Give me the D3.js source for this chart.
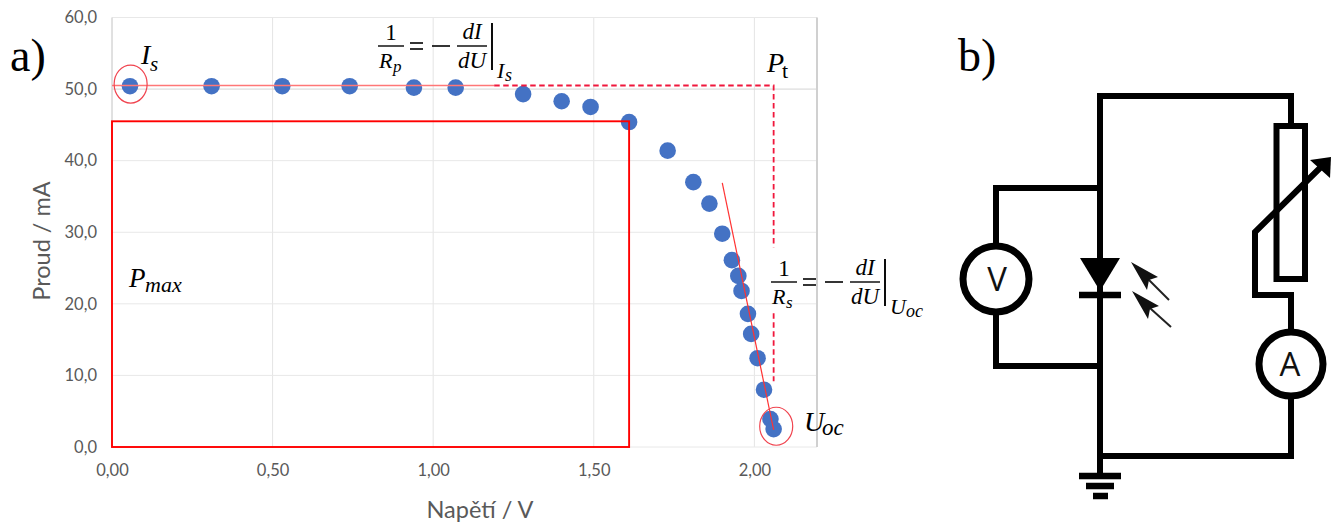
<!DOCTYPE html>
<html>
<head>
<meta charset="utf-8">
<script src="https://cdn.jsdelivr.net/npm/d3@7/dist/d3.min.js"></script>
<style>
  html, body { margin: 0; padding: 0; background: #fff; }
  svg { display: block; }
  .tick text { font-family: Lato, sans-serif; font-size: 16.5px; fill: #595959; }
  .title { font-family: Lato, sans-serif; font-size: 23.5px; fill: #595959; text-anchor: middle; }
  .math { font-family: "Liberation Serif", serif; fill: #000; }
</style>
</head>
<body>
<div id="visualization"></div>
<script>
var voltage = [0.056, 0.31, 0.53, 0.74, 0.94, 1.07, 1.28, 1.40, 1.49, 1.61, 1.73, 1.81, 1.86, 1.90, 1.93, 1.95, 1.96, 1.98, 1.99, 2.01, 2.03, 2.05, 2.06]
var current = [50.4, 50.4, 50.4, 50.4, 50.2, 50.2, 49.3, 48.3, 47.5, 45.4, 41.4, 37.0, 34.0, 29.8, 26.1, 23.9, 21.8, 18.6, 15.8, 12.4, 8.0, 3.9, 2.5]
var xTicks = [0, 0.5, 1, 1.5, 2]
var xTickLabels = ['0,00', '0,50', '1,00', '1,50', '2,00']
var yTicks = [0, 10, 20, 30, 40, 50, 60]
var yTickLabels = ['0,0', '10,0', '20,0', '30,0', '40,0', '50,0', '60,0']

var isc = 50.5
var uoc = 2.06
var mppU = 1.61
var mppI = 45.5

var svg = d3.select('#visualization')
  .append('svg')
  .attr('width', 1332)
  .attr('height', 524)

var x = d3.scaleLinear().domain([0, 2.195]).range([112, 817])
var y = d3.scaleLinear().domain([0, 60]).range([447, 17.5])

var line = d3.line()

function drawChart () {
  var grid = svg.append('g')
  grid.selectAll('.gx').data(xTicks).enter().append('line')
    .attr('x1', function (d) { return x(d) })
    .attr('x2', function (d) { return x(d) })
    .attr('y1', y(60))
    .attr('y2', y(0))
    .attr('stroke', '#e4e4e4')
    .attr('stroke-width', 1)
  grid.selectAll('.gy').data(yTicks).enter().append('line')
    .attr('x1', x(0))
    .attr('x2', 817)
    .attr('y1', function (d) { return y(d) })
    .attr('y2', function (d) { return y(d) })
    .attr('stroke', function (d) { return d === 50 ? '#d4d4d4' : '#e8e8e8' })
    .attr('stroke-width', 1)
  grid.append('line')
    .attr('x1', 817).attr('x2', 817)
    .attr('y1', y(60)).attr('y2', y(0))
    .attr('stroke', '#d0d0d0')
    .attr('stroke-width', 2)
  grid.append('line')
    .attr('x1', x(0)).attr('x2', x(0))
    .attr('y1', y(60)).attr('y2', y(0))
    .attr('stroke', '#d0d0d0')
    .attr('stroke-width', 1)

  var xAxis = d3.axisBottom(x)
    .tickValues(xTicks)
    .tickSize(0)
    .tickPadding(17)
    .tickFormat(function (d, i) { return xTickLabels[i] })
  var yAxis = d3.axisLeft(y)
    .tickValues(yTicks)
    .tickSize(0)
    .tickPadding(15)
    .tickFormat(function (d, i) { return yTickLabels[i] })
  svg.append('g').attr('transform', 'translate(0,447)').call(xAxis)
    .call(function (g) { g.select('.domain').remove() })
  svg.append('g').attr('transform', 'translate(112,0)').call(yAxis)
    .call(function (g) { g.select('.domain').remove() })

  svg.append('text').attr('class', 'title')
    .attr('x', 480).attr('y', 518).text('Napětí / V')
  svg.append('text').attr('class', 'title')
    .attr('transform', 'translate(50,241) rotate(-90)').text('Proud / mA')

  svg.selectAll('.pt').data(voltage).enter().append('circle')
    .attr('cx', function (d) { return x(d) })
    .attr('cy', function (d, i) { return y(current[i]) })
    .attr('r', 8.3)
    .attr('fill', '#4472c4')

  // Pmax box
  svg.append('rect')
    .attr('x', x(0))
    .attr('y', y(mppI))
    .attr('width', x(mppU) - x(0))
    .attr('height', y(0) - y(mppI))
    .attr('fill', 'none')
    .attr('stroke', '#ff0000')
    .attr('stroke-width', 1.9)

  // flat part of the curve and its tangent
  svg.append('path')
    .attr('d', line([[x(0), y(isc)], [x(1.19), y(isc)]]))
    .attr('stroke', '#f77')
    .attr('stroke-width', 1.3)
  svg.append('path')
    .attr('d', line([[x(1.90), y(36.9)], [x(uoc), y(2.4)]]))
    .attr('stroke', '#f33')
    .attr('stroke-width', 1.2)

  // Pt dashed corner
  var dash = svg.append('g')
    .attr('fill', 'none')
    .attr('stroke', '#f0173c')
    .attr('stroke-width', 1.8)
    .attr('stroke-dasharray', '5.5 3.5')
  dash.append('path')
    .attr('d', line([[x(1.19), y(isc)], [x(uoc), y(isc)], [x(uoc), y(27.9)]]))
  dash.append('path')
    .attr('d', line([[x(uoc), y(18.7)], [x(uoc), y(9.2)]]))

  var rings = [[0.058, 50.7], [2.068, 2.9]]
  svg.selectAll('.ring').data(rings).enter().append('ellipse')
    .attr('cx', function (d) { return x(d[0]) })
    .attr('cy', function (d) { return y(d[1]) })
    .attr('rx', 16.5)
    .attr('ry', 19)
    .attr('fill', 'none')
    .attr('stroke', '#f0444f')
    .attr('stroke-width', 1.2)
}

function mathText (tx, ty, str, size, italic) {
  svg.append('text').attr('class', 'math')
    .attr('x', tx).attr('y', ty)
    .attr('font-size', size)
    .attr('font-style', italic ? 'italic' : 'normal')
    .text(str)
}

function centerText (cx, ty, str, size, italic) {
  svg.append('text').attr('class', 'math')
    .attr('x', cx).attr('y', ty)
    .attr('font-size', size)
    .attr('font-style', italic ? 'italic' : 'normal')
    .attr('text-anchor', 'middle')
    .text(str)
}

function rule (x1, y1, x2, y2, w) {
  svg.append('path')
    .attr('d', line([[x1, y1], [x2, y2]]))
    .attr('stroke', '#000')
    .attr('stroke-width', w)
}

// 1/R = -dI/dU| with sub, placed from the left end of the first fraction
function formula (ox, oy, r, sub, subSub, subW) {
  centerText(ox + 13, oy - 6, '1', 23, false)
  rule(ox, oy, ox + 26, oy, 1.4)
  mathText(ox + 1, oy + 22, 'R', 22, true)
  mathText(ox + 15, oy + 26, r, 17, true)
  rule(ox + 32, oy - 3, ox + 45, oy - 3, 1.6)
  rule(ox + 32, oy + 3, ox + 45, oy + 3, 1.6)
  rule(ox + 54, oy, ox + 72, oy, 1.6)
  rule(ox + 79, oy, ox + 109, oy, 1.4)
  centerText(ox + 94, oy - 7, 'dI', 23, true)
  centerText(ox + 94, oy + 22, 'dU', 23, true)
  rule(ox + 114, oy - 23, ox + 114, oy + 24, 1.9)
  mathText(ox + 119, oy + 32, sub, 22, true)
  mathText(ox + 119 + subW, oy + 35, subSub, 18, true)
}

function drawLabels () {
  mathText(10, 71, 'a)', 46, false)
  mathText(958, 71, 'b)', 46, false)

  mathText(141, 64, 'I', 28, true)
  mathText(150, 71, 's', 21, true)
  mathText(767, 72, 'P', 28, true)
  mathText(782, 78, 't', 22, false)
  mathText(129, 287, 'P', 27, true)
  mathText(145, 292, 'max', 22, true)
  mathText(804, 431, 'U', 28, true)
  mathText(822, 435, 'oc', 23, true)

  formula(378, 46, 'p', 'I', 's', 8)
  formula(771, 282, 's', 'U', 'oc', 16)
}

function drawCircuit () {
  var c = svg.append('g')
  var wire = c.append('g')
    .attr('fill', 'none')
    .attr('stroke', '#000')
    .attr('stroke-width', 6)
    .attr('stroke-linejoin', 'miter')

  wire.append('path').attr('d', line([[1100, 476], [1100, 96], [1291, 96], [1291, 126]]))
  wire.append('path').attr('d', line([[1100, 188], [996, 188], [996, 246]]))
  wire.append('path').attr('d', line([[996, 312], [996, 366], [1100, 366]]))
  wire.append('path').attr('d', line([[1100, 456], [1291, 456], [1291, 396]]))
  wire.append('path').attr('d', line([[1291, 332], [1291, 295], [1255, 295], [1255, 232], [1322, 166]]))
  wire.append('rect')
    .attr('x', 1276.5).attr('y', 126)
    .attr('width', 28.5).attr('height', 153)
  wire.append('circle').attr('cx', 996).attr('cy', 279).attr('r', 33)
    .attr('stroke-width', 7)
  wire.append('circle').attr('cx', 1291).attr('cy', 364).attr('r', 32)
    .attr('stroke-width', 7)

  c.append('path')
    .attr('d', line([[1310, 160], [1331, 157], [1330, 178]]) + 'Z')
    .attr('fill', '#000')

  // photodiode
  c.append('path')
    .attr('d', line([[1080, 258], [1120, 258], [1100, 291]]) + 'Z')
    .attr('fill', '#000')
  rule(1079, 295, 1121, 295, 6.5)

  // ground
  rule(1079, 476, 1121, 476, 6.5)
  rule(1086, 486, 1114, 486, 6.5)
  rule(1093, 496, 1108, 496, 6.5)

  // light arrows
  var rays = [[[1169, 300], [1140, 271]], [[1171, 327], [1141, 300]]]
  rays.forEach(function (r) {
    c.append('path')
      .attr('d', line(r))
      .attr('stroke', '#222')
      .attr('stroke-width', 2)
    var tx = r[1][0] - 9
    var ty = r[1][1] - 9
    c.append('path')
      .attr('d', line([[tx, ty], [tx + 27, ty + 15], [tx + 18, ty + 18], [tx + 16, ty + 28]]) + 'Z')
      .attr('fill', '#111')
  })

  var meters = [['V', 997, 291], ['A', 1290, 376]]
  c.selectAll('.meter').data(meters).enter().append('text')
    .attr('x', function (d) { return d[1] })
    .attr('y', function (d) { return d[2] })
    .attr('text-anchor', 'middle')
    .attr('font-family', 'Open Sans, sans-serif')
    .attr('font-size', 33)
    .attr('font-weight', 500)
    .attr('fill', '#111')
    .text(function (d) { return d[0] })
}

drawChart()
drawLabels()
drawCircuit()
</script>
</body>
</html>
